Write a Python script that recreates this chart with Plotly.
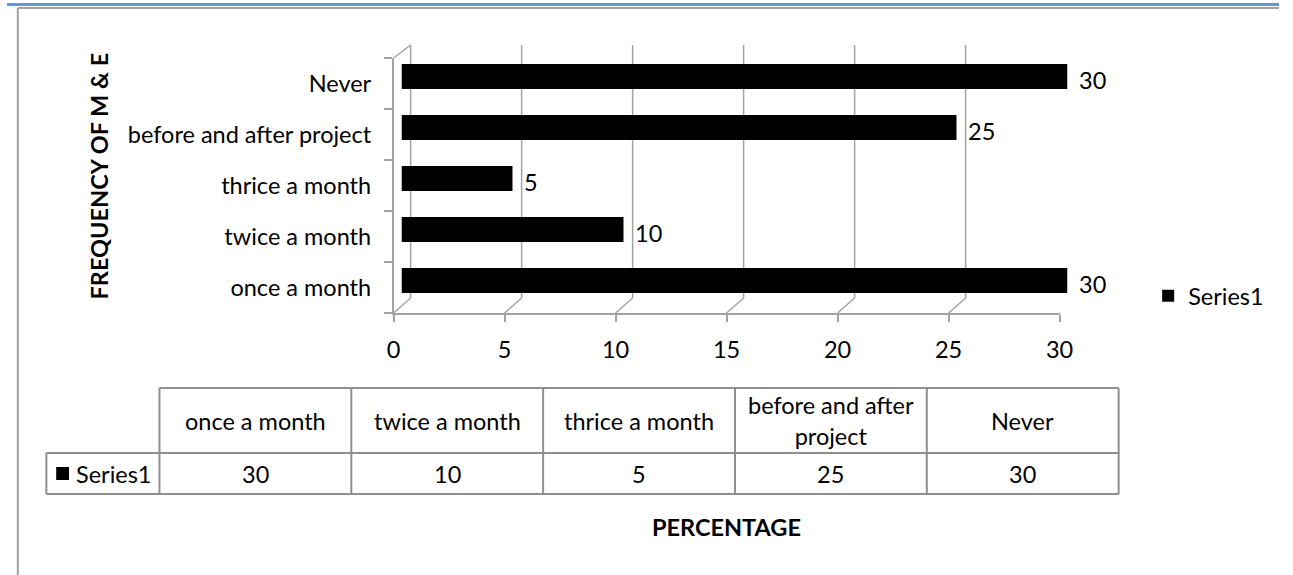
import plotly.graph_objects as go

# ---------------- data ----------------
categories = ["once a month", "twice a month", "thrice a month", "before and after project", "Never"]
table_headers = ["once a month", "twice a month", "thrice a month", "before and after<br>project", "Never"]
values = [30, 10, 5, 25, 30]
series_name = "Series1"
x_ticks = [0, 5, 10, 15, 20, 25, 30]
x_title = "PERCENTAGE"
y_title = "FREQUENCY OF M & E"

# ---------------- layout helpers ----------------
W, H = 1293, 575
FONT = "Lato"
FS = 23.5
GRID = "#a3a3a3"
TBL = "#8f8f8f"


def px(x):
    return x / W


def py(y):
    return 1 - y / H


DX = 17  # depth offset of the 3D back wall (pixels)

fig = go.Figure()

fig.add_trace(go.Bar(
    x=values, y=categories, orientation="h", name=series_name,
    xaxis="x2", yaxis="y2", width=0.49,
    marker=dict(color="black", line=dict(width=0)),
    hoverinfo="x+y",
))

shapes = []
# back-wall gridlines and floor connectors
for v in x_ticks:
    shapes.append(dict(type="line", xref="x", yref="paper", xsizemode="pixel", xanchor=v,
                       x0=DX, x1=DX, y0=py(298), y1=py(45),
                       line=dict(color=GRID, width=1.5), layer="below"))
    shapes.append(dict(type="line", xref="x", yref="paper", xsizemode="pixel", xanchor=v,
                       x0=0, x1=DX, y0=py(313), y1=py(298),
                       line=dict(color=GRID, width=1.5), layer="below"))
# top edge of side wall
shapes.append(dict(type="line", xref="x", yref="paper", xsizemode="pixel", xanchor=x_ticks[0],
                   x0=0, x1=DX, y0=py(58), y1=py(45),
                   line=dict(color=GRID, width=1.5), layer="below"))

# frame decoration
shapes.append(dict(type="rect", xref="paper", yref="paper", x0=0, x1=1, y0=py(3), y1=py(6),
                   fillcolor="#5b9bd5", line=dict(width=0)))
shapes.append(dict(type="line", xref="paper", yref="paper", x0=px(11), x1=1, y0=py(8), y1=py(8),
                   line=dict(color="#a0a0a0", width=2)))
shapes.append(dict(type="line", xref="paper", yref="paper", x0=px(11), x1=px(11), y0=py(8), y1=0,
                   line=dict(color="#a0a0a0", width=2)))

# data table
col_edges = [40, 155, 350, 545, 740, 935, 1130]
row_edges = [388, 453, 494]


def hline(y, x0, x1):
    shapes.append(dict(type="line", xref="paper", yref="paper", x0=px(x0), x1=px(x1),
                       y0=py(y), y1=py(y), line=dict(color=TBL, width=2)))


def vline(x, y0, y1):
    shapes.append(dict(type="line", xref="paper", yref="paper", x0=px(x), x1=px(x),
                       y0=py(y0), y1=py(y1), line=dict(color=TBL, width=2)))


hline(row_edges[0], col_edges[1], col_edges[-1])
hline(row_edges[1], col_edges[0], col_edges[-1])
hline(row_edges[2], col_edges[0], col_edges[-1])
vline(col_edges[0], row_edges[1], row_edges[2])
for cx in col_edges[1:]:
    vline(cx, row_edges[0], row_edges[2])
# legend key in table row header
shapes.append(dict(type="rect", xref="paper", yref="paper", x0=px(50), x1=px(63),
                   y0=py(480), y1=py(467), fillcolor="black", line=dict(width=0)))

annotations = []
# data labels
for c, v in zip(categories, values):
    annotations.append(dict(x=v, y=c, xref="x2", yref="y2", text=str(v), showarrow=False,
                            xanchor="left", yanchor="middle", xshift=10, yshift=-3,
                            font=dict(family=FONT, size=FS, color="black")))
# table texts
for i, (h, v) in enumerate(zip(table_headers, values)):
    cx = (col_edges[i + 1] + col_edges[i + 2]) / 2
    annotations.append(dict(x=px(cx), y=py((row_edges[0] + row_edges[1]) / 2), xref="paper", yref="paper",
                            text=h, showarrow=False, xanchor="center", yanchor="middle",
                            font=dict(family=FONT, size=FS, color="black")))
    annotations.append(dict(x=px(cx), y=py((row_edges[1] + row_edges[2]) / 2), xref="paper", yref="paper",
                            text=str(v), showarrow=False, xanchor="center", yanchor="middle",
                            font=dict(family=FONT, size=FS, color="black")))
annotations.append(dict(x=px(68), y=py((row_edges[1] + row_edges[2]) / 2), xref="paper", yref="paper",
                        text=series_name, showarrow=False, xanchor="left", yanchor="middle",
                        font=dict(family=FONT, size=FS, color="black")))
# titles
annotations.append(dict(x=px(731), y=py(527), xref="paper", yref="paper", text="<b>" + x_title + "</b>",
                        showarrow=False, xanchor="center", yanchor="middle",
                        font=dict(family=FONT, size=FS, color="black")))
annotations.append(dict(x=px(94), y=py(176), xref="paper", yref="paper", text="<b>" + y_title + "</b>",
                        showarrow=False, xanchor="center", yanchor="middle", textangle=-90,
                        font=dict(family=FONT, size=FS, color="black")))

fig.update_layout(
    width=W, height=H,
    margin=dict(l=0, r=0, t=0, b=0),
    paper_bgcolor="white", plot_bgcolor="rgba(0,0,0,0)",
    font=dict(family=FONT, size=FS, color="black"),
    xaxis=dict(domain=[px(393), px(1070)], range=[0, 30], tickvals=x_ticks,
               ticks="outside", ticklen=7, tickcolor=GRID, tickwidth=1.5,
               showline=True, linecolor=GRID, linewidth=1.5, showgrid=False, zeroline=False,
               ticklabelstandoff=8, anchor="y", fixedrange=True),
    yaxis=dict(domain=[py(313), py(58)], type="category", categoryorder="array",
               categoryarray=categories, range=[-0.5, 4.5], tickson="boundaries",
               ticks="outside", ticklen=8, tickcolor=GRID, tickwidth=1.5,
               showline=True, linecolor=GRID, linewidth=1.5, showgrid=False, zeroline=False,
               ticklabelstandoff=16, anchor="x", fixedrange=True),
    xaxis2=dict(domain=[px(401), px(1078)], range=[0, 30], visible=False, anchor="y2", fixedrange=True),
    yaxis2=dict(domain=[py(306), py(51)], type="category", categoryorder="array",
                categoryarray=categories, range=[-0.5, 4.5], visible=False, anchor="x2", fixedrange=True),
    showlegend=True,
    legend=dict(x=px(1160), y=py(296), xanchor="left", yanchor="middle",
                font=dict(family=FONT, size=FS, color="black"), bgcolor="rgba(0,0,0,0)"),
    shapes=shapes, annotations=annotations,
    bargap=0.5,
)

fig.write_html("out.html")
